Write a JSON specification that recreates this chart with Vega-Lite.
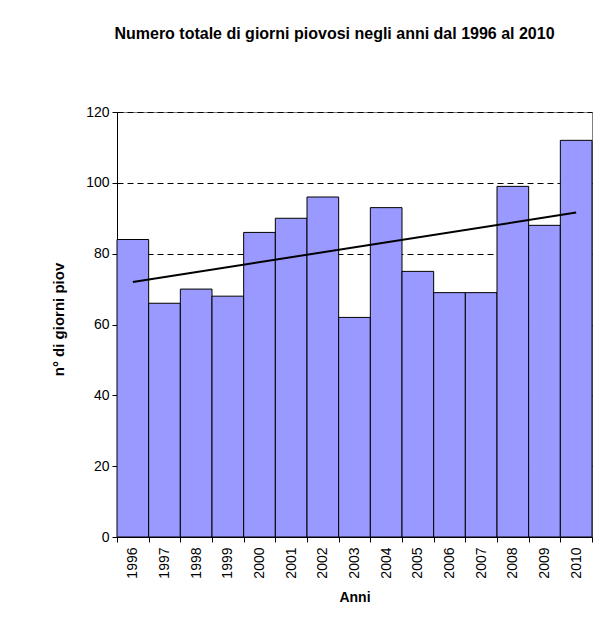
{
  "$schema": "https://vega.github.io/schema/vega-lite/v6.json",
  "autosize": "none",
  "width": 475,
  "height": 425,
  "padding": {"left": 117, "top": 112, "right": 21, "bottom": 85},
  "background": "white",
  "config": {
    "font": "Liberation Sans",
    "view": {"stroke": "#808080", "strokeWidth": 1}
  },
  "title": {
    "text": "Numero totale di giorni piovosi negli anni dal 1996 al 2010",
    "fontSize": 16,
    "fontWeight": "bold",
    "color": "black",
    "anchor": "middle",
    "dx": -20,
    "offset": 63
  },
  "datasets": {
    "bars": [
      {"anno": "1996", "giorni": 84},
      {"anno": "1997", "giorni": 66},
      {"anno": "1998", "giorni": 70},
      {"anno": "1999", "giorni": 68},
      {"anno": "2000", "giorni": 86},
      {"anno": "2001", "giorni": 90},
      {"anno": "2002", "giorni": 96},
      {"anno": "2003", "giorni": 62},
      {"anno": "2004", "giorni": 93},
      {"anno": "2005", "giorni": 75},
      {"anno": "2006", "giorni": 69},
      {"anno": "2007", "giorni": 69},
      {"anno": "2008", "giorni": 99},
      {"anno": "2009", "giorni": 88},
      {"anno": "2010", "giorni": 112}
    ],
    "trend": [
      {"anno": "1996", "giorni": 72.0},
      {"anno": "2010", "giorni": 91.6}
    ]
  },
  "layer": [
    {
      "data": {"name": "bars"},
      "mark": {"type": "bar", "fill": "#9999FF", "stroke": "#000000", "strokeWidth": 1},
      "encoding": {
        "x": {
          "field": "anno",
          "type": "ordinal",
          "scale": {"paddingInner": 0, "paddingOuter": 0},
          "axis": {
            "title": "Anni",
            "titleFontSize": 14,
            "titleFontWeight": "bold",
            "titleColor": "black",
            "titlePadding": 12,
            "labelAngle": -90,
            "labelFontSize": 14,
            "labelColor": "black",
            "labelPadding": 5,
            "tickBand": "extent",
            "tickColor": "black",
            "tickSize": 5,
            "domainColor": "black",
            "grid": false
          }
        },
        "y": {
          "field": "giorni",
          "type": "quantitative",
          "scale": {"domain": [0, 120], "nice": false},
          "axis": {
            "title": "n° di giorni piov",
            "titleFontSize": 15,
            "titleFontWeight": "bold",
            "titleColor": "black",
            "titleX": -51,
            "titleY": 207,
            "values": [0, 20, 40, 60, 80, 100, 120],
            "labelFontSize": 14,
            "labelColor": "black",
            "labelPadding": 3,
            "tickColor": "black",
            "tickSize": 5,
            "domainColor": "black",
            "grid": true,
            "gridColor": "#000000",
            "gridDash": [6, 4],
            "gridWidth": 1
          }
        }
      }
    },
    {
      "data": {"name": "trend"},
      "mark": {"type": "line", "color": "black", "strokeWidth": 2},
      "encoding": {
        "x": {"field": "anno", "type": "ordinal"},
        "y": {"field": "giorni", "type": "quantitative"}
      }
    }
  ]
}
